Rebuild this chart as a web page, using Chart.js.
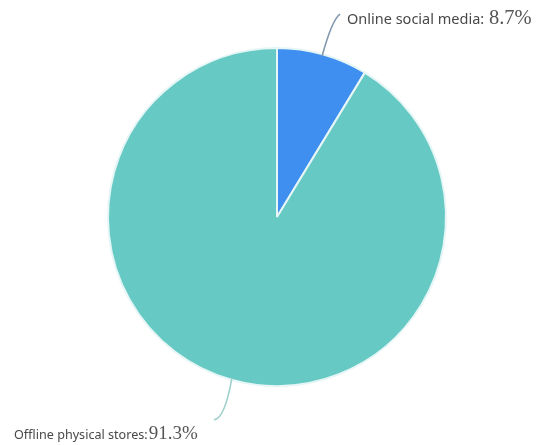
<!DOCTYPE html>
<html>
<head>
<meta charset="utf-8">
<script src="https://cdn.jsdelivr.net/npm/chart.js@4/dist/chart.umd.min.js"></script>
<style>
  html, body { margin: 0; padding: 0; background: #ffffff; }
  #wrap { width: 537px; height: 445px; position: relative; }
</style>
</head>
<body>
<div id="wrap"><canvas id="c" width="537" height="445"></canvas></div>
<script>
const categories = ["Online social media", "Offline physical stores"];
const shares = [8.7, 91.3];
const valueLabels = ["8.7%", "91.3%"];

const sliceColors = ["#3f8ff0", "#67c9c4"];
const lineColors = ["#8198ae", "#9fd0cd"];

const leaderPlugin = {
  id: "leaders",
  afterDraw(chart) {
    const ctx = chart.ctx;
    const meta = chart.getDatasetMeta(0);
    meta.data.forEach((arc, i) => {
      const mid = (arc.startAngle + arc.endAngle) / 2;
      const r = arc.outerRadius;
      const sx = arc.x + Math.cos(mid) * (r - 2);
      const sy = arc.y + Math.sin(mid) * (r - 2);
      ctx.save();
      ctx.strokeStyle = lineColors[i];
      ctx.lineWidth = 1.6;
      ctx.beginPath();
      ctx.moveTo(sx, sy);
      let tx, ty, labelSize, valueSize;
      const cx = sx + Math.cos(mid) * 30;
      const cy = sy + Math.sin(mid) * 30;
      if (i === 0) {
        ctx.quadraticCurveTo(cx + 2, cy - 8, sx + 18, sy - 42);
        tx = 347; ty = 24; labelSize = 14.5; valueSize = 20.5;
      } else {
        ctx.quadraticCurveTo(cx + 1, cy + 12, sx - 18, sy + 42);
        tx = 14; ty = 439; labelSize = 12.6; valueSize = 19;
      }
      ctx.stroke();
      ctx.textBaseline = "alphabetic";
      ctx.textAlign = "left";
      ctx.fillStyle = "#484848";
      ctx.font = labelSize + "px 'Noto Sans', 'Open Sans', sans-serif";
      const label = i === 0 ? categories[i] + ": " : categories[i] + ":";
      ctx.fillText(label, tx, ty);
      const w = ctx.measureText(label).width;
      ctx.fillStyle = "#555555";
      ctx.font = valueSize + "px 'Liberation Serif', 'DejaVu Serif', serif";
      ctx.fillText(valueLabels[i], tx + w + 1, ty);
      ctx.restore();
    });
  }
};

new Chart(document.getElementById("c"), {
  type: "pie",
  data: {
    labels: categories,
    datasets: [{
      data: shares,
      backgroundColor: sliceColors,
      borderColor: "#e6f6f6",
      borderWidth: 2
    }]
  },
  options: {
    responsive: false,
    animation: false,
    layout: { padding: { top: 47, bottom: 58, left: 25, right: 8 } },
    plugins: {
      legend: { display: false },
      tooltip: { enabled: false }
    }
  },
  plugins: [leaderPlugin]
});
</script>
</body>
</html>
